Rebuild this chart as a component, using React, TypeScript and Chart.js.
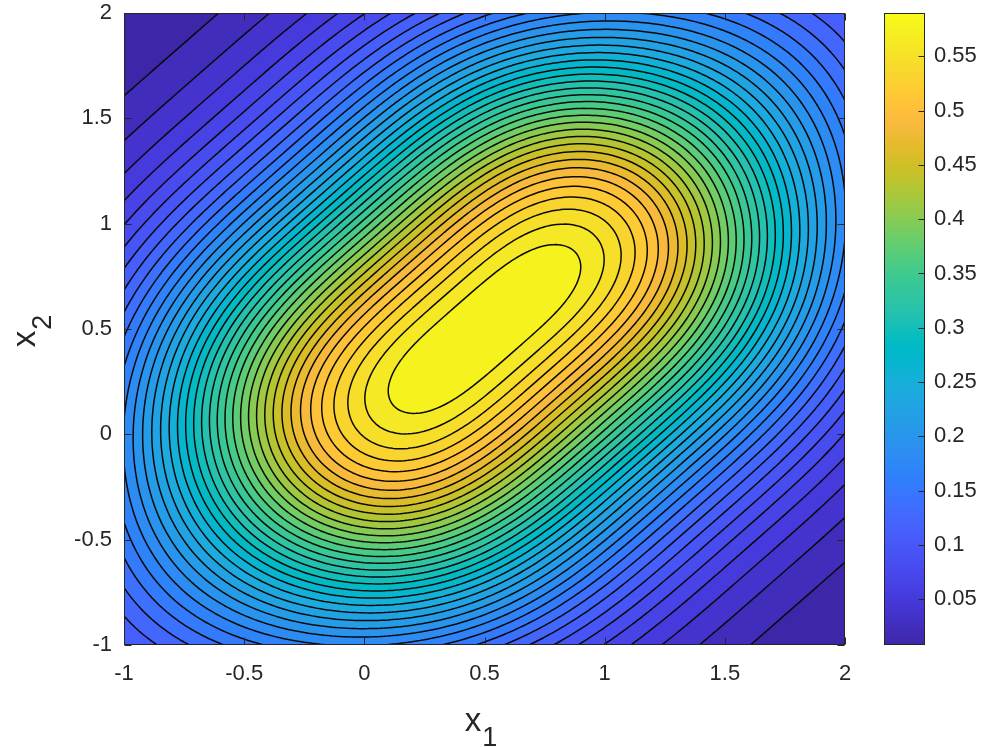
import React, { useEffect, useRef } from "react";
import { Chart, registerables } from "chart.js";

Chart.register(...registerables);

// ---------------- data ----------------
const X_LIMITS = [-1, 2];
const Y_LIMITS = [-1, 2];
const X_TICKS = [-1, -0.5, 0, 0.5, 1, 1.5, 2];
const Y_TICKS = [-1, -0.5, 0, 0.5, 1, 1.5, 2];
const COLORBAR_TICKS = [0.05, 0.1, 0.15, 0.2, 0.25, 0.3, 0.35, 0.4, 0.45, 0.5, 0.55];
const X_LABEL = ["x", "1"];
const Y_LABEL = ["x", "2"];

// The surface: a ridge along x1 = x2, centred on (0.5, 0.5)
const RIDGE_CENTER = [0.5, 0.5];
const RIDGE_PEAK = 0.59;
const RIDGE_ACROSS_SD = 0.72; // spread across the ridge
const RIDGE_ALONG_SCALE = 1.42; // half-value distance along the ridge
const RIDGE_ALONG_POWER = 3.7; // flatness of the ridge top
const CONTOUR_INTERVALS = 40;
const GRID_STEPS = 180;

// parula colour map (64 entries)
const PARULA: number[][] = [
  [0.2422, 0.1504, 0.6603], [0.2504, 0.165, 0.7076], [0.2578, 0.1818, 0.7511], [0.2647, 0.1978, 0.7952],
  [0.2706, 0.2147, 0.8364], [0.2751, 0.2342, 0.871], [0.2783, 0.2559, 0.8991], [0.2803, 0.2782, 0.9221],
  [0.2813, 0.3006, 0.9414], [0.281, 0.3228, 0.9579], [0.2795, 0.3447, 0.9717], [0.276, 0.3667, 0.9829],
  [0.2699, 0.3892, 0.9906], [0.2602, 0.4123, 0.9952], [0.244, 0.4358, 0.9988], [0.2206, 0.4603, 0.9973],
  [0.1963, 0.4847, 0.9892], [0.1834, 0.5074, 0.9798], [0.1786, 0.5289, 0.9682], [0.1764, 0.5499, 0.952],
  [0.1687, 0.5703, 0.9359], [0.154, 0.5902, 0.9218], [0.146, 0.6091, 0.9079], [0.138, 0.6276, 0.8973],
  [0.1248, 0.6459, 0.8883], [0.1113, 0.6635, 0.8763], [0.0952, 0.6798, 0.8598], [0.0689, 0.6948, 0.8394],
  [0.0297, 0.7082, 0.8163], [0.0036, 0.7203, 0.7917], [0.0067, 0.7312, 0.766], [0.0433, 0.7411, 0.7394],
  [0.0964, 0.75, 0.712], [0.1408, 0.7584, 0.6842], [0.1717, 0.767, 0.6554], [0.1938, 0.7758, 0.6251],
  [0.2161, 0.7843, 0.5923], [0.247, 0.7918, 0.5567], [0.2906, 0.7973, 0.5188], [0.3406, 0.8008, 0.4789],
  [0.3909, 0.8029, 0.4354], [0.4456, 0.8024, 0.3909], [0.5044, 0.7993, 0.348], [0.5616, 0.7942, 0.3045],
  [0.6174, 0.7876, 0.2612], [0.672, 0.7793, 0.2227], [0.7242, 0.7698, 0.191], [0.7738, 0.7598, 0.1646],
  [0.8203, 0.7498, 0.1535], [0.8634, 0.7406, 0.1596], [0.9035, 0.733, 0.1774], [0.9393, 0.7288, 0.21],
  [0.9728, 0.7298, 0.2394], [0.9956, 0.7434, 0.2371], [0.997, 0.7659, 0.2199], [0.9952, 0.7893, 0.2028],
  [0.9892, 0.8136, 0.1885], [0.9786, 0.8386, 0.1766], [0.9676, 0.8639, 0.1643], [0.961, 0.889, 0.1537],
  [0.9597, 0.9135, 0.1423], [0.9628, 0.9373, 0.1265], [0.9691, 0.9606, 0.1064], [0.9769, 0.9839, 0.0805],
];

const FONT = '"Liberation Sans", Arial, Helvetica, sans-serif';
const INK = "#262626";

// ---------------- helpers ----------------
function surface(x1: number, x2: number): number {
  const dx = x1 - RIDGE_CENTER[0];
  const dy = x2 - RIDGE_CENTER[1];
  const u = (dy - dx) / Math.SQRT2;
  const v = (dx + dy) / Math.SQRT2;
  const across = Math.exp((-u * u) / (2 * RIDGE_ACROSS_SD * RIDGE_ACROSS_SD));
  const along = 1 / (1 + Math.pow(Math.abs(v) / RIDGE_ALONG_SCALE, RIDGE_ALONG_POWER));
  return RIDGE_PEAK * across * along;
}

function parula(t: number): [number, number, number] {
  const c = Math.max(0, Math.min(1, t)) * (PARULA.length - 1);
  const i = Math.min(PARULA.length - 2, Math.floor(c));
  const f = c - i;
  const a = PARULA[i];
  const b = PARULA[i + 1];
  return [
    Math.round(255 * (a[0] + (b[0] - a[0]) * f)),
    Math.round(255 * (a[1] + (b[1] - a[1]) * f)),
    Math.round(255 * (a[2] + (b[2] - a[2]) * f)),
  ];
}

function fmt(v: number): string {
  return String(Number(v.toFixed(2)));
}

// marching squares -> flat list of segments in data coordinates
function marching(z: Float64Array, nx: number, ny: number, xs: number[], ys: number[], L: number): number[] {
  const out: number[] = [];
  for (let j = 0; j < ny - 1; j++) {
    for (let i = 0; i < nx - 1; i++) {
      const a = z[j * nx + i];
      const b = z[j * nx + i + 1];
      const c = z[(j + 1) * nx + i + 1];
      const d = z[(j + 1) * nx + i];
      const idx = (a > L ? 1 : 0) | (b > L ? 2 : 0) | (c > L ? 4 : 0) | (d > L ? 8 : 0);
      if (idx === 0 || idx === 15) continue;
      const x0 = xs[i], x1 = xs[i + 1], y0 = ys[j], y1 = ys[j + 1];
      const e = (k: number): [number, number] => {
        if (k === 0) return [x0 + ((L - a) / (b - a)) * (x1 - x0), y0];
        if (k === 1) return [x1, y0 + ((L - b) / (c - b)) * (y1 - y0)];
        if (k === 2) return [x0 + ((L - d) / (c - d)) * (x1 - x0), y1];
        return [x0, y0 + ((L - a) / (d - a)) * (y1 - y0)];
      };
      const seg = (p: number, q: number) => {
        const P = e(p);
        const Q = e(q);
        out.push(P[0], P[1], Q[0], Q[1]);
      };
      const center = (a + b + c + d) / 4;
      switch (idx) {
        case 1: case 14: seg(3, 0); break;
        case 2: case 13: seg(0, 1); break;
        case 3: case 12: seg(3, 1); break;
        case 4: case 11: seg(1, 2); break;
        case 6: case 9: seg(0, 2); break;
        case 7: case 8: seg(3, 2); break;
        case 5:
          if (center > L) { seg(0, 1); seg(2, 3); } else { seg(3, 0); seg(1, 2); }
          break;
        case 10:
          if (center > L) { seg(3, 0); seg(1, 2); } else { seg(0, 1); seg(2, 3); }
          break;
      }
    }
  }
  return out;
}

export default function App() {
  const mainRef = useRef<HTMLCanvasElement>(null);
  const barRef = useRef<HTMLCanvasElement>(null);

  useEffect(() => {
    if (!mainRef.current || !barRef.current) return;

    // sample the surface on a grid
    const nx = GRID_STEPS + 1;
    const ny = GRID_STEPS + 1;
    const xs: number[] = [];
    const ys: number[] = [];
    for (let i = 0; i < nx; i++) xs.push(X_LIMITS[0] + ((X_LIMITS[1] - X_LIMITS[0]) * i) / GRID_STEPS);
    for (let j = 0; j < ny; j++) ys.push(Y_LIMITS[0] + ((Y_LIMITS[1] - Y_LIMITS[0]) * j) / GRID_STEPS);
    const z = new Float64Array(nx * ny);
    let zmin = Infinity;
    let zmax = -Infinity;
    for (let j = 0; j < ny; j++)
      for (let i = 0; i < nx; i++) {
        const v = surface(xs[i], ys[j]);
        z[j * nx + i] = v;
        if (v < zmin) zmin = v;
        if (v > zmax) zmax = v;
      }
    const step = (zmax - zmin) / CONTOUR_INTERVALS;
    const levels: number[] = [];
    for (let k = 1; k < CONTOUR_INTERVALS; k++) levels.push(zmin + k * step);
    const contours = levels.map((L) => marching(z, nx, ny, xs, ys, L));

    const fieldPlugin = {
      id: "field",
      beforeDatasetsDraw(chart: any) {
        const { ctx, chartArea } = chart;
        const xS = chart.scales.x;
        const yS = chart.scales.y;
        const left = Math.round(chartArea.left);
        const top = Math.round(chartArea.top);
        const w = Math.round(chartArea.right) - left;
        const h = Math.round(chartArea.bottom) - top;
        const off = document.createElement("canvas");
        off.width = w;
        off.height = h;
        const octx = off.getContext("2d")!;
        const img = octx.createImageData(w, h);
        const px: number[] = [];
        const py: number[] = [];
        for (let i = 0; i < w; i++) px.push(xS.getValueForPixel(left + i + 0.5));
        for (let j = 0; j < h; j++) py.push(yS.getValueForPixel(top + j + 0.5));
        const palette: [number, number, number][] = [];
        for (let k = 0; k < CONTOUR_INTERVALS; k++) palette.push(parula(k / CONTOUR_INTERVALS));
        for (let j = 0; j < h; j++) {
          for (let i = 0; i < w; i++) {
            const v = surface(px[i], py[j]);
            let k = Math.floor((v - zmin) / step);
            if (k < 0) k = 0;
            if (k > CONTOUR_INTERVALS - 1) k = CONTOUR_INTERVALS - 1;
            const col = palette[k];
            const o = (j * w + i) * 4;
            img.data[o] = col[0];
            img.data[o + 1] = col[1];
            img.data[o + 2] = col[2];
            img.data[o + 3] = 255;
          }
        }
        octx.putImageData(img, 0, 0);
        ctx.save();
        ctx.drawImage(off, left, top);
        ctx.restore();
      },
      afterDatasetsDraw(chart: any) {
        const { ctx, chartArea } = chart;
        const xS = chart.scales.x;
        const yS = chart.scales.y;
        ctx.save();
        ctx.beginPath();
        ctx.rect(chartArea.left, chartArea.top, chartArea.right - chartArea.left, chartArea.bottom - chartArea.top);
        ctx.clip();
        ctx.strokeStyle = "#0a0a0a";
        ctx.lineWidth = 1.5;
        ctx.lineCap = "round";
        for (const segs of contours) {
          ctx.beginPath();
          for (let s = 0; s < segs.length; s += 4) {
            ctx.moveTo(xS.getPixelForValue(segs[s]), yS.getPixelForValue(segs[s + 1]));
            ctx.lineTo(xS.getPixelForValue(segs[s + 2]), yS.getPixelForValue(segs[s + 3]));
          }
          ctx.stroke();
        }
        ctx.restore();

        // box and inward ticks
        ctx.save();
        ctx.strokeStyle = INK;
        ctx.lineWidth = 1;
        const l = Math.round(chartArea.left) + 0.5;
        const r = Math.round(chartArea.right) - 0.5;
        const t = Math.round(chartArea.top) + 0.5;
        const b = Math.round(chartArea.bottom) - 0.5;
        ctx.strokeRect(l, t, r - l, b - t);
        ctx.beginPath();
        const TL = 7;
        for (const v of X_TICKS) {
          const p = Math.round(xS.getPixelForValue(v)) + 0.5;
          ctx.moveTo(p, b);
          ctx.lineTo(p, b - TL);
          ctx.moveTo(p, t);
          ctx.lineTo(p, t + TL);
        }
        for (const v of Y_TICKS) {
          const p = Math.round(yS.getPixelForValue(v)) + 0.5;
          ctx.moveTo(l, p);
          ctx.lineTo(l + TL, p);
          ctx.moveTo(r, p);
          ctx.lineTo(r - TL, p);
        }
        ctx.stroke();
        ctx.restore();
      },
      afterDraw(chart: any) {
        const { ctx } = chart;
        ctx.save();
        ctx.fillStyle = INK;
        ctx.textBaseline = "alphabetic";
        ctx.textAlign = "left";
        const big = `33px ${FONT}`;
        const small = `27px ${FONT}`;
        // x label
        ctx.font = big;
        const w1 = ctx.measureText(X_LABEL[0]).width;
        ctx.font = small;
        const w2 = ctx.measureText(X_LABEL[1]).width;
        const cx = 481;
        const sx = cx - (w1 + 1 + w2) / 2;
        ctx.font = big;
        ctx.fillText(X_LABEL[0], sx, 731);
        ctx.font = small;
        ctx.fillText(X_LABEL[1], sx + w1 + 1, 746);
        // y label (rotated)
        ctx.translate(35, 331);
        ctx.rotate(-Math.PI / 2);
        ctx.font = big;
        const v1 = ctx.measureText(Y_LABEL[0]).width;
        ctx.font = small;
        const v2 = ctx.measureText(Y_LABEL[1]).width;
        const sy = -(v1 + 1 + v2) / 2;
        ctx.font = big;
        ctx.fillText(Y_LABEL[0], sy, 0);
        ctx.font = small;
        ctx.fillText(Y_LABEL[1], sy + v1 + 1, 16);
        ctx.restore();
      },
    };

    const tickFont = { family: FONT, size: 22 };

    const main = new Chart(mainRef.current, {
      type: "scatter",
      data: { datasets: [{ data: [], pointRadius: 0 }] },
      options: {
        animation: false,
        responsive: false,
        devicePixelRatio: 1,
        layout: { padding: { left: 0, right: 25, top: 13, bottom: 0 } },
        plugins: { legend: { display: false }, tooltip: { enabled: false } },
        scales: {
          x: {
            type: "linear",
            min: X_LIMITS[0],
            max: X_LIMITS[1],
            afterBuildTicks: (s: any) => {
              s.ticks = X_TICKS.map((v) => ({ value: v }));
            },
            afterFit: (s: any) => {
              s.height = 103;
              s.paddingLeft = 0;
              s.paddingRight = 0;
            },
            grid: { display: false, drawTicks: false },
            border: { display: false },
            ticks: { padding: 16, font: tickFont, color: INK, maxRotation: 0, autoSkip: false, callback: (v: any) => fmt(Number(v)) },
          },
          y: {
            type: "linear",
            min: Y_LIMITS[0],
            max: Y_LIMITS[1],
            afterBuildTicks: (s: any) => {
              s.ticks = Y_TICKS.map((v) => ({ value: v }));
            },
            afterFit: (s: any) => {
              s.width = 124;
              s.paddingTop = 0;
              s.paddingBottom = 0;
            },
            grid: { display: false, drawTicks: false },
            border: { display: false },
            ticks: { padding: 12, font: tickFont, color: INK, autoSkip: false, callback: (v: any) => fmt(Number(v)) },
          },
        },
      },
      plugins: [fieldPlugin],
    } as any);

    const barPlugin = {
      id: "colorbar",
      beforeDatasetsDraw(chart: any) {
        const { ctx, chartArea } = chart;
        const yS = chart.scales.y;
        const left = Math.round(chartArea.left);
        const right = Math.round(chartArea.right);
        const top = Math.round(chartArea.top);
        const bottom = Math.round(chartArea.bottom);
        ctx.save();
        for (let y = top; y < bottom; y++) {
          const v = yS.getValueForPixel(y + 0.5);
          const c = parula((v - zmin) / (zmax - zmin));
          ctx.fillStyle = `rgb(${c[0]},${c[1]},${c[2]})`;
          ctx.fillRect(left, y, right - left, 1);
        }
        ctx.strokeStyle = INK;
        ctx.lineWidth = 1;
        ctx.strokeRect(left + 0.5, top + 0.5, right - left - 1, bottom - top - 1);
        ctx.beginPath();
        for (const v of COLORBAR_TICKS) {
          const p = Math.round(yS.getPixelForValue(v)) + 0.5;
          ctx.moveTo(right - 0.5, p);
          ctx.lineTo(right - 6.5, p);
        }
        ctx.stroke();
        ctx.restore();
      },
    };

    const bar = new Chart(barRef.current, {
      type: "scatter",
      data: { datasets: [{ data: [], pointRadius: 0 }] },
      options: {
        animation: false,
        responsive: false,
        devicePixelRatio: 1,
        layout: { padding: { left: 24, right: 0, top: 13, bottom: 103 } },
        plugins: { legend: { display: false }, tooltip: { enabled: false } },
        scales: {
          x: { type: "linear", min: 0, max: 1, display: false },
          y: {
            type: "linear",
            position: "right",
            min: zmin,
            max: zmax,
            afterBuildTicks: (s: any) => {
              s.ticks = COLORBAR_TICKS.map((v) => ({ value: v }));
            },
            afterFit: (s: any) => {
              s.width = 59;
              s.paddingTop = 0;
              s.paddingBottom = 0;
            },
            grid: { display: false, drawTicks: false },
            border: { display: false },
            ticks: { padding: 9, font: tickFont, color: INK, autoSkip: false, callback: (v: any) => fmt(Number(v)) },
          },
        },
      },
      plugins: [barPlugin],
    } as any);

    return () => {
      main.destroy();
      bar.destroy();
    };
  }, []);

  return (
    <div style={{ position: "absolute", left: 0, top: 0, width: 984, height: 748, background: "#ffffff", overflow: "hidden" }}>
      <canvas ref={mainRef} width={870} height={748} style={{ position: "absolute", left: 0, top: 0 }} />
      <canvas ref={barRef} width={124} height={748} style={{ position: "absolute", left: 860, top: 0 }} />
    </div>
  );
}
